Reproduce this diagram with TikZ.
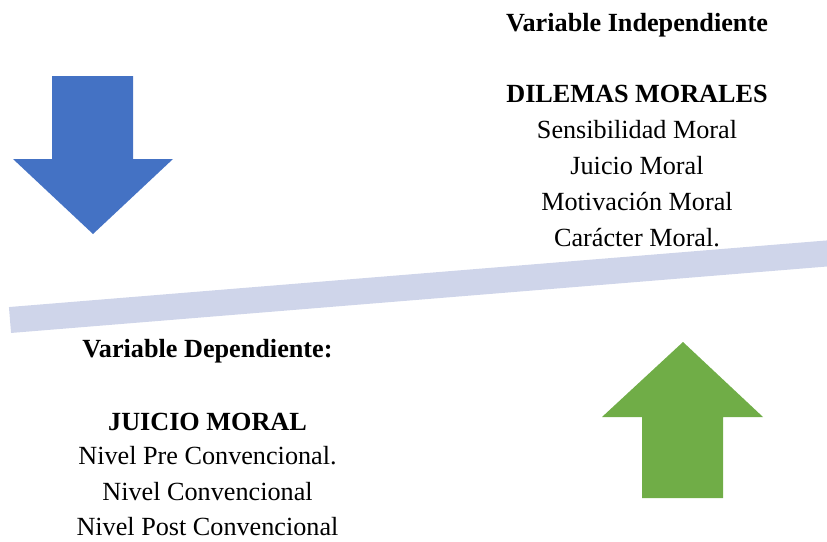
\documentclass[tikz,border=0pt]{standalone}
\usepackage{fontspec}
\setmainfont{Liberation Serif}
\definecolor{arrowblue}{HTML}{4472C4}
\definecolor{arrowgreen}{HTML}{70AD47}
\definecolor{barblue}{HTML}{CFD5EA}
\begin{document}
\begin{tikzpicture}[x=1pt,y=-1pt,
  txt/.style={anchor=base,inner sep=0pt,font=\fontsize{26.2}{36}\selectfont},
  btxt/.style={txt,font=\fontsize{26.2}{36}\selectfont\bfseries}]
\useasboundingbox (0,0) rectangle (827,541);
\clip (0,0) rectangle (827,541);
% bar
\draw[barblue,line width=26pt] (10,320) -- (840,252.4);
% blue down arrow
\fill[arrowblue] (52,76) -- (133,76) -- (133,159) -- (173,159) -- (93,234) -- (13,159) -- (52,159) -- cycle;
% green up arrow
\fill[arrowgreen] (683,342) -- (763,417) -- (723,417) -- (723,498) -- (642,498) -- (642,417) -- (602,417) -- cycle;
% top text
\node[btxt] (vi) at (637,31.7) {Variable Independiente};
\node[btxt] (dm) at (637,102) {DILEMAS MORALES};
\node[txt] (sm) at (637,138.7) {Sensibilidad Moral};
\node[txt] (jm) at (637,174.5) {Juicio Moral};
\node[txt] (mm) at (637,210.3) {Motivación Moral};
\node[txt] (cm) at (637,246) {Carácter Moral.};
% bottom text
\node[btxt] (vd) at (207.5,357) {Variable Dependiente:};
\node[btxt] (jmb) at (207.5,430) {JUICIO MORAL};
\node[txt] (n1) at (207.5,464) {Nivel Pre Convencional.};
\node[txt] (n2) at (207.5,500) {Nivel Convencional};
\node[txt] (n3) at (207.5,535.5) {Nivel Post Convencional};
\end{tikzpicture}
\end{document}
